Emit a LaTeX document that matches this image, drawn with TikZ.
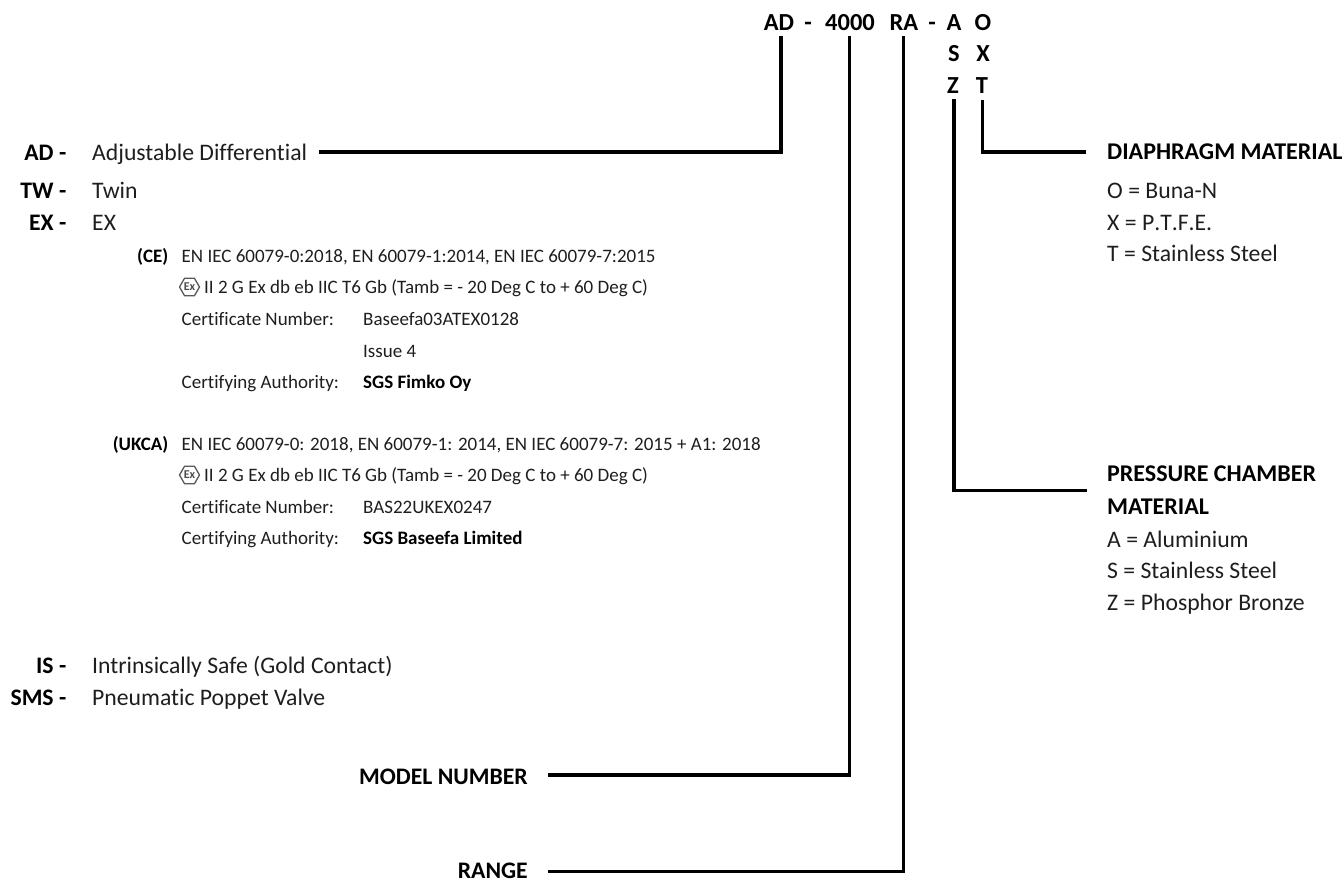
\documentclass[tikz,border=0pt]{standalone}
\usepackage{fontspec}
\setmainfont[Ligatures=NoCommon]{Carlito}
\usetikzlibrary{shapes.geometric}
\definecolor{ink}{RGB}{30,30,30}
\tikzset{
 big/.style={anchor=base west,inner sep=0pt,font=\fontsize{23.7}{26}\selectfont,text=ink},
 bigb/.style={anchor=base west,inner sep=0pt,font=\fontsize{24}{26}\selectfont\bfseries,text=black},
 bigr/.style={anchor=base east,inner sep=0pt,font=\fontsize{23.7}{26}\selectfont\bfseries,text=black},
 small/.style={anchor=base west,inner sep=0pt,font=\fontsize{19}{22}\selectfont,text=ink},
 smallb/.style={anchor=base west,inner sep=0pt,font=\fontsize{19}{22}\selectfont\bfseries,text=black},
 smallr/.style={anchor=base east,inner sep=0pt,font=\fontsize{19}{22}\selectfont\bfseries,text=black},
 head/.style={anchor=base,inner sep=0pt,font=\fontsize{24.5}{26}\selectfont\bfseries,text=black},
 wire/.style={draw=black,line width=3.2pt,line cap=butt,line join=miter},
 exhex/.style={regular polygon,regular polygon sides=6,draw=black!65,line width=1.3pt,minimum size=20pt,inner sep=0pt,font=\fontsize{12}{12}\selectfont\bfseries,text=black!70},
}
\begin{document}
\begin{tikzpicture}[x=1pt,y=-1pt]
\useasboundingbox (0,0) rectangle (1344,881);
% code
\node[head] (cAD) at (779,30) {AD};
\node[head] (cd1) at (808,30) {-};
\node[head] (c4000) at (850,30) {4000};
\node[head] (cRA) at (904,30) {RA};
\node[head] (cd2) at (932,30) {-};
\node[head] (cA) at (954,30) {A};
\node[head] (cO) at (983,30) {O};
\node[head] (cS) at (954,61) {S};
\node[head] (cX) at (983,61) {X};
\node[head] (cZ) at (953,93) {Z};
\node[head] (cT) at (982,93) {T};
% left column
\node[bigr] (lAD) at (66.5,160) {AD -};
\node[big] (tAD) at (92,160) {Adjustable Differential};
\node[bigr] (lTW) at (66.5,198) {TW -};
\node[big] (tTW) at (92,198) {Twin};
\node[bigr] (lEX) at (66.5,230) {EX -};
\node[big] (tEX) at (92,230) {EX};
\node[smallr] (lCE) at (168.5,262) {(CE)};
\node[small] (n1) at (181.5,262) {EN IEC 60079-0:2018, EN 60079-1:2014, EN IEC 60079-7:2015};
\node[exhex] (ex1) at (189.5,287) {Ex};
\node[small] (n2) at (204,293) {II 2 G Ex db eb IIC T6 Gb (Tamb = - 20 Deg C to + 60 Deg C)};
\node[small] (n3) at (181.5,325) {Certificate Number:};
\node[small] (n4) at (363,325) {Baseefa03ATEX0128};
\node[small] (n5) at (363,357) {Issue 4};
\node[small] (n6) at (181.5,388) {Certifying Authority:};
\node[smallb] (n7) at (363,388) {SGS Fimko Oy};
\node[smallr] (lUK) at (168.5,450) {(UKCA)};
\node[small] (m1) at (181.5,450) {EN IEC 60079-0: 2018, EN 60079-1: 2014, EN IEC 60079-7: 2015 + A1: 2018};
\node[exhex] (ex2) at (189.5,475) {Ex};
\node[small] (m2) at (204,481) {II 2 G Ex db eb IIC T6 Gb (Tamb = - 20 Deg C to + 60 Deg C)};
\node[small] (m3) at (181.5,513) {Certificate Number:};
\node[small] (m4) at (363,513) {BAS22UKEX0247};
\node[small] (m6) at (181.5,544) {Certifying Authority:};
\node[smallb] (m7) at (363,544) {SGS Baseefa Limited};
\node[bigr] (lIS) at (66.5,673) {IS -};
\node[big] (tIS) at (92,673) {Intrinsically Safe (Gold Contact)};
\node[bigr] (lSMS) at (66.5,705) {SMS -};
\node[big] (tSMS) at (92,705) {Pneumatic Poppet Valve};
\node[bigr] (tMN) at (528,784) {MODEL NUMBER};
\node[bigr] (tRG) at (528,878.8) {RANGE};
% right column
\node[bigb] (hD) at (1107,159.5) {DIAPHRAGM MATERIAL};
\node[big] (d1) at (1107,198) {O = Buna-N};
\node[big] (d2) at (1107,230) {\addfontfeatures{Kerning=Off}X = P.T.F.E.};
\node[big] (d3) at (1107,261) {T = Stainless Steel};
\node[bigb] (hP) at (1107,481) {PRESSURE CHAMBER};
\node[bigb] (hP2) at (1107,514) {MATERIAL};
\node[big] (p1) at (1107,547) {A = Aluminium};
\node[big] (p2) at (1107,578) {S = Stainless Steel};
\node[big] (p3) at (1107,610) {Z = Phosphor Bronze};
% connector ends
\coordinate (sAD) at (319,152);
\coordinate (jAD) at (781,152);
\coordinate (eAD) at (781,36);
\coordinate (sMN) at (548,775);
\coordinate (jMN) at (849.5,775);
\coordinate (eMN) at (849.5,36);
\coordinate (sRG) at (548,871.7);
\coordinate (jRG) at (903.3,871.7);
\coordinate (eRG) at (903.3,36);
\coordinate (sZ) at (1086.7,490.5);
\coordinate (jZ) at (954,490.5);
\coordinate (eZ) at (954,99);
\coordinate (sT) at (1086,152);
\coordinate (jT) at (982.5,152);
\coordinate (eT) at (982.5,100);
\draw[wire] (sAD) -- (jAD) -- (eAD);
\draw[wire] (sMN) -- (jMN) -- (eMN);
\draw[wire] (sRG) -- (jRG) -- (eRG);
\draw[wire] (sZ) -- (jZ) -- (eZ);
\draw[wire] (sT) -- (jT) -- (eT);
\end{tikzpicture}
\end{document}
